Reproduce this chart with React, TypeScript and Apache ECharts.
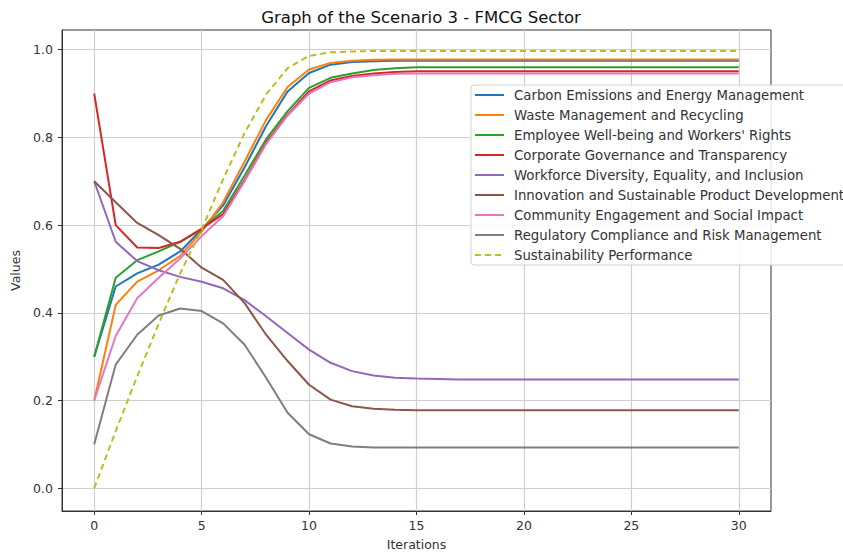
import React, { useEffect, useRef } from "react";
import * as echarts from "echarts";

const iterations = [0,1,2,3,4,5,6,7,8,9,10,11,12,13,14,15,16,17,18,19,20,21,22,23,24,25,26,27,28,29,30];

const carbon = [0.30,0.46,0.49,0.51,0.54,0.59,0.645,0.732,0.826,0.905,0.947,0.966,0.972,0.974,0.975,0.975,0.975,0.975,0.975,0.975,0.975,0.975,0.975,0.975,0.975,0.975,0.975,0.975,0.975,0.975,0.975];
const waste = [0.20,0.418,0.471,0.497,0.53,0.585,0.652,0.745,0.84,0.915,0.955,0.970,0.975,0.977,0.978,0.978,0.978,0.978,0.978,0.978,0.978,0.978,0.978,0.978,0.978,0.978,0.978,0.978,0.978,0.978,0.978];
const employee = [0.30,0.48,0.52,0.54,0.562,0.59,0.633,0.713,0.796,0.86,0.913,0.936,0.946,0.954,0.958,0.96,0.96,0.96,0.96,0.96,0.96,0.96,0.96,0.96,0.96,0.96,0.96,0.96,0.96,0.96,0.96];
const governance = [0.90,0.60,0.549,0.548,0.562,0.592,0.625,0.703,0.788,0.852,0.905,0.93,0.94,0.946,0.949,0.951,0.951,0.951,0.951,0.951,0.951,0.951,0.951,0.951,0.951,0.951,0.951,0.951,0.951,0.951,0.951];
const diversity = [0.70,0.562,0.518,0.497,0.482,0.471,0.456,0.429,0.392,0.354,0.316,0.286,0.267,0.257,0.252,0.250,0.249,0.248,0.248,0.248,0.248,0.248,0.248,0.248,0.248,0.248,0.248,0.248,0.248,0.248,0.248];
const innovation = [0.70,0.652,0.605,0.577,0.546,0.503,0.475,0.422,0.35,0.29,0.236,0.202,0.187,0.181,0.179,0.178,0.178,0.178,0.178,0.178,0.178,0.178,0.178,0.178,0.178,0.178,0.178,0.178,0.178,0.178,0.178];
const community = [0.20,0.347,0.433,0.48,0.524,0.575,0.62,0.70,0.785,0.85,0.90,0.926,0.937,0.942,0.945,0.946,0.946,0.946,0.946,0.946,0.946,0.946,0.946,0.946,0.946,0.946,0.946,0.946,0.946,0.946,0.946];
const regulatory = [0.10,0.282,0.35,0.394,0.41,0.404,0.376,0.327,0.252,0.172,0.123,0.102,0.095,0.093,0.093,0.093,0.093,0.093,0.093,0.093,0.093,0.093,0.093,0.093,0.093,0.093,0.093,0.093,0.093,0.093,0.093];
const sustainability = [0.0,0.13,0.255,0.375,0.49,0.59,0.705,0.81,0.898,0.958,0.986,0.994,0.996,0.997,0.997,0.997,0.997,0.997,0.997,0.997,0.997,0.997,0.997,0.997,0.997,0.997,0.997,0.997,0.997,0.997,0.997];

const seriesNames = [
  "Carbon Emissions and Energy Management",
  "Waste Management and Recycling",
  "Employee Well-being and Workers' Rights",
  "Corporate Governance and Transparency",
  "Workforce Diversity, Equality, and Inclusion",
  "Innovation and Sustainable Product Development",
  "Community Engagement and Social Impact",
  "Regulatory Compliance and Risk Management",
  "Sustainability Performance",
];
const seriesValues = [carbon, waste, employee, governance, diversity, innovation, community, regulatory, sustainability];
const colors = ["#1f77b4","#ff7f0e","#2ca02c","#d62728","#9467bd","#8c564b","#e377c2","#7f7f7f","#bcbd22"];

const xTicks = [0,5,10,15,20,25,30];
const yTicks = [0,0.2,0.4,0.6,0.8,1.0];

const FONT = "DejaVu Sans";

export default function App() {
  const ref = useRef<HTMLDivElement>(null);
  useEffect(() => {
    document.body.style.margin = "0";
    const chart = echarts.init(ref.current!, null, { renderer: "svg" });
    const series = seriesNames.map((name, k) => ({
      name,
      type: "line",
      data: iterations.map((x, i) => [x, seriesValues[k][i]]),
      symbol: "none",
      lineStyle: { color: colors[k], width: 2, type: k === 8 ? [6, 4] : "solid" },
      itemStyle: { color: colors[k] },
      z: 3,
    }));
    chart.setOption({
      animation: false,
      title: {
        text: "Graph of the Scenario 3 - FMCG Sector",
        left: 416,
        textAlign: "center",
        top: 4,
        textStyle: { fontFamily: FONT, fontSize: 16.5, fontWeight: "normal", color: "#111" },
      },
      grid: {
        left: 62, right: 72, top: 30, bottom: 42,
        show: true, borderColor: "#333", borderWidth: 1, containLabel: false,
      },
      legend: {
        orient: "vertical",
        left: 471,
        top: 85,
        itemWidth: 29,
        itemHeight: 14,
        itemGap: 6,
        padding: [3, 6, 3, 3],
        backgroundColor: "rgba(255,255,255,0.85)",
        borderColor: "#d0d0d0",
        borderWidth: 1,
        borderRadius: 3,
        itemStyle: { opacity: 0 },
        textStyle: { fontFamily: FONT, fontSize: 13.3, color: "#333", lineHeight: 14, padding: [0, 0, 0, 5] },
        data: seriesNames,
      },
      xAxis: {
        type: "value",
        min: -1.5,
        max: 31.5,
        name: "Iterations",
        nameLocation: "middle",
        nameGap: 27,
        nameTextStyle: { fontFamily: FONT, fontSize: 12.5, color: "#333" },
        axisLine: { show: true, onZero: false, lineStyle: { color: "#333" } },
        axisTick: { show: true, length: 4, customValues: xTicks, lineStyle: { color: "#333" } },
        axisLabel: { customValues: xTicks, fontFamily: FONT, fontSize: 12.5, color: "#333", margin: 8 },
        splitLine: { show: true, lineStyle: { color: "#cfcfcf", width: 1.2 } },
      },
      yAxis: {
        type: "value",
        min: -0.052,
        max: 1.045,
        name: "Values",
        nameLocation: "middle",
        nameGap: 36,
        nameTextStyle: { fontFamily: FONT, fontSize: 12.5, color: "#333" },
        axisLine: { show: true, onZero: false, lineStyle: { color: "#333" } },
        axisTick: { show: true, length: 4, customValues: yTicks, lineStyle: { color: "#333" } },
        axisLabel: {
          customValues: yTicks, fontFamily: FONT, fontSize: 12.5, color: "#333", margin: 9,
          formatter: (v: number) => v.toFixed(1),
        },
        splitLine: { show: true, lineStyle: { color: "#cfcfcf", width: 1.2 } },
      },
      series,
    });
    return () => chart.dispose();
  }, []);
  return <div ref={ref} style={{ width: 843, height: 556 }} />;
}
